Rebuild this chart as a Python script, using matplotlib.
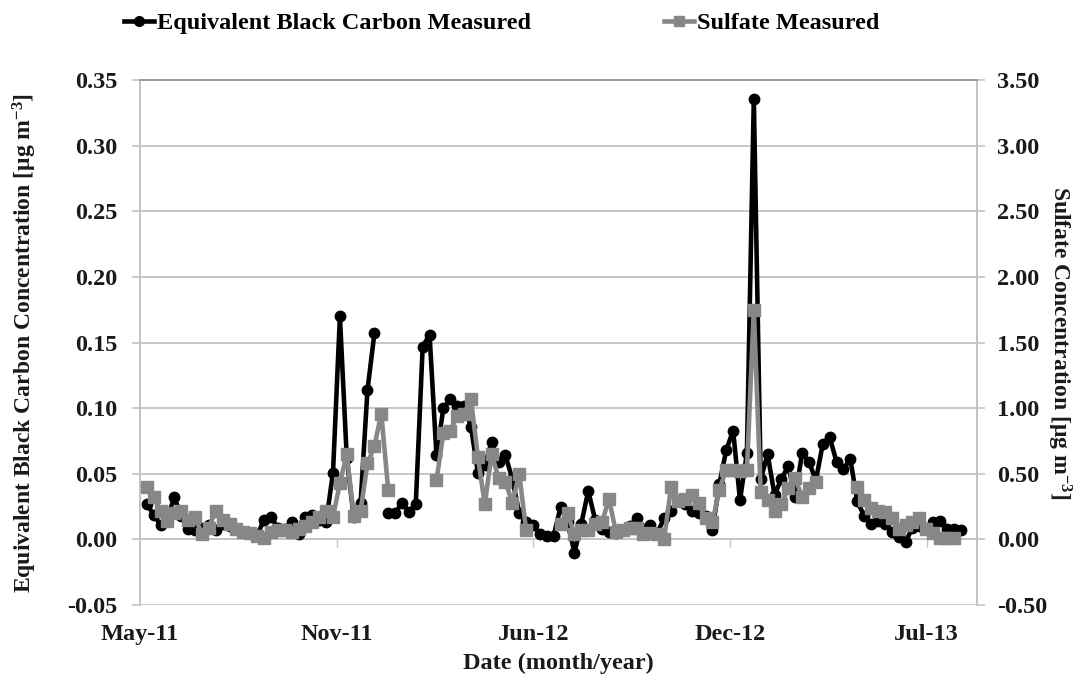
import numpy as np
import matplotlib
matplotlib.use("Agg")
import matplotlib.pyplot as plt
from matplotlib.ticker import FormatStrFormatter
from matplotlib.lines import Line2D

nan = np.nan

# Weekly values (index = week number from start of record, May 2011)
bc = [0.027, 0.019, 0.011, 0.017, 0.032, 0.018, 0.008, 0.007, 0.009, 0.011,
      0.007, 0.012, 0.010, 0.008, 0.006, 0.005, 0.003, 0.015, 0.017, 0.009,
      0.008, 0.013, 0.004, 0.017, 0.019, 0.015, 0.013, 0.051, 0.170, 0.062,
      0.017, 0.028, 0.114, 0.157, nan, 0.020, 0.020, 0.028, 0.021, 0.027,
      0.147, 0.156, 0.064, 0.100, 0.107, 0.102, 0.102, 0.086, 0.051, 0.057,
      0.074, 0.059, 0.064, 0.046, 0.020, 0.013, 0.011, 0.004, 0.003, 0.003,
      0.025, 0.013, -0.010, 0.012, 0.037, 0.015, 0.008, 0.006, 0.005, 0.007,
      0.010, 0.016, 0.008, 0.011, 0.005, 0.016, 0.022, 0.030, 0.027, 0.022,
      0.020, 0.018, 0.007, 0.042, 0.068, 0.083, 0.030, 0.066, 0.336, 0.046,
      0.065, 0.034, 0.046, 0.056, 0.032, 0.066, 0.059, 0.045, 0.073, 0.078,
      0.059, 0.054, 0.061, 0.029, 0.018, 0.012, 0.014, 0.012, 0.006, 0.002,
      -0.002, 0.009, 0.010, 0.008, 0.013, 0.014, 0.008, 0.008, 0.007]

sulfate = [0.40, 0.32, 0.22, 0.14, 0.20, 0.22, 0.15, 0.17, 0.04, 0.09,
           0.22, 0.15, 0.12, 0.08, 0.06, 0.05, 0.03, 0.01, 0.06, 0.07,
           0.07, 0.06, 0.08, 0.10, 0.13, 0.17, 0.22, 0.17, 0.43, 0.65,
           0.18, 0.22, 0.58, 0.71, 0.96, 0.38, nan, nan, nan, nan,
           nan, nan, 0.45, 0.81, 0.83, 0.94, 0.96, 1.07, 0.63, 0.27,
           0.65, 0.47, 0.44, 0.28, 0.50, 0.07, nan, nan, nan, nan,
           0.12, 0.20, 0.04, 0.07, 0.07, 0.12, 0.13, 0.31, 0.06, 0.07,
           0.09, 0.09, 0.04, 0.05, 0.04, 0.00, 0.40, 0.29, 0.31, 0.34,
           0.28, 0.16, 0.13, 0.38, 0.53, 0.53, 0.52, 0.53, 1.75, 0.36,
           0.30, 0.22, 0.27, 0.39, 0.47, 0.32, 0.39, 0.44, nan, nan,
           nan, nan, nan, 0.40, 0.30, 0.24, 0.22, 0.21, 0.16, 0.08,
           0.11, 0.13, 0.16, 0.08, 0.05, 0.01, 0.01, 0.01, nan]

tick_labels = ["May-11", "Nov-11", "Jun-12", "Dec-12", "Jul-13"]

week = np.arange(len(bc))

plt.rcParams['font.family'] = ['Liberation Serif', 'DejaVu Serif']
plt.rcParams['font.weight'] = 'bold'
plt.rcParams['mathtext.fontset'] = 'custom'
plt.rcParams['mathtext.rm'] = 'Liberation Serif:bold'
plt.rcParams['mathtext.it'] = 'Liberation Serif:bold'
plt.rcParams['mathtext.bf'] = 'Liberation Serif:bold'
plt.rcParams['mathtext.default'] = 'rm'

txt = '#1a1a1a'
gridc = '#c4c4c4'
grey = '#878787'
fs = 17.5

fig = plt.figure(figsize=(10.84, 6.86), dpi=100)
ax = fig.add_axes([0.1292, 0.118, 0.7720, 0.765])
ax2 = ax.twinx()

ax.plot(week, bc, color='black', lw=3.3, marker='o', ms=7.5,
        markeredgecolor='black', zorder=3)
ax2.plot(week, sulfate, color=grey, lw=3.3, marker='s', ms=8,
         markeredgecolor=grey, zorder=4)

ax.set_ylim(-0.05, 0.35)
ax.set_yticks(np.arange(-0.05, 0.351, 0.05))
ax.yaxis.set_major_formatter(FormatStrFormatter('%.2f'))
ax2.set_ylim(-0.5, 3.5)
ax2.set_yticks(np.arange(-0.5, 3.51, 0.5))
ax2.yaxis.set_major_formatter(FormatStrFormatter('%.2f'))

first_tick = -0.97
tick_step = 28.51
tick_pos = [first_tick + k * tick_step for k in range(len(tick_labels))]
ax.set_xlim(first_tick, first_tick + 121.31)
ax.set_xticks(tick_pos)
ax.set_xticklabels(tick_labels)
ax.tick_params(axis='x', length=0, pad=14)

# horizontal axis line at zero with small tick marks
sec = ax.secondary_xaxis(0.125)
sec.set_xticks(tick_pos)
sec.set_xticklabels([])
sec.tick_params(axis='x', length=6, width=1, color=gridc, direction='out')
sec.spines['bottom'].set_color(gridc)
sec.spines['bottom'].set_linewidth(1.3)

ax.grid(axis='y', color=gridc, lw=1.3)
ax.set_axisbelow(True)
for a in (ax, ax2):
    a.spines['bottom'].set_visible(False)
    a.spines['top'].set_color('#9a9a9a')
    a.spines['top'].set_linewidth(1.3)
    a.spines['left'].set_color(gridc)
    a.spines['right'].set_color(gridc)
    a.spines['left'].set_linewidth(1.3)
    a.spines['right'].set_linewidth(1.3)
    a.tick_params(axis='y', length=5.5, width=1.2, color=gridc,
                  direction='out', labelsize=fs, labelcolor=txt)
    for lab in a.get_yticklabels():
        lab.set_fontweight('bold')
ax.tick_params(axis='y', pad=11)
ax2.tick_params(axis='y', pad=9)
ax.tick_params(axis='x', labelsize=fs, labelcolor=txt)
for lab in ax.get_xticklabels():
    lab.set_fontweight('bold')

ax.set_ylabel('Equivalent Black Carbon Concentration [μg m$^{-3}$]',
              fontsize=17, fontweight='bold', color=txt, labelpad=20)
ax2.set_ylabel('Sulfate Concentration [μg m$^{-3}$]', fontsize=17,
               fontweight='bold', color=txt, rotation=270, labelpad=19)
ax.set_xlabel('Date (month/year)', fontsize=17.5, fontweight='bold',
              color=txt, labelpad=5)

h1 = Line2D([], [], color='black', lw=3.3, marker='o', ms=7)
h2 = Line2D([], [], color=grey, lw=3.3, marker='s', ms=7.5)
leg1 = fig.legend([h1], ['Equivalent Black Carbon Measured'],
                  loc='center left', bbox_to_anchor=(0.1144, 0.966),
                  frameon=False, handlelength=1.25, handletextpad=0.12,
                  borderpad=0.0, borderaxespad=0.0,
                  prop={'weight': 'bold', 'size': fs})
leg2 = fig.legend([h2], ['Sulfate Measured'],
                  loc='center left', bbox_to_anchor=(0.6126, 0.966),
                  frameon=False, handlelength=1.25, handletextpad=0.12,
                  borderpad=0.0, borderaxespad=0.0,
                  prop={'weight': 'bold', 'size': fs})

fig.savefig('out.png', dpi=100, facecolor='white')
